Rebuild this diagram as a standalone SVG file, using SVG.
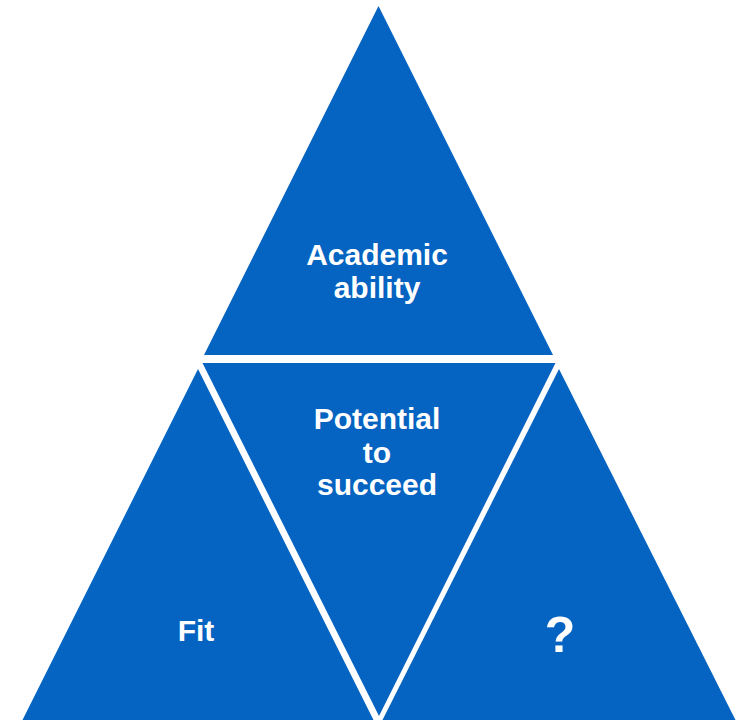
<svg xmlns="http://www.w3.org/2000/svg" width="740" height="720" viewBox="0 0 740 720">
<style>
.tri{fill:#0563C1;}
.lbl{fill:#fff;font-family:"Liberation Sans",Arial,sans-serif;font-weight:bold;font-size:30px;text-anchor:middle;}
</style>
<rect width="740" height="720" fill="#fff"/>
<g id="academic">
<polygon class="tri" points="378.5,6 553,355 204,355"/>
<text class="lbl" x="377" y="265">Academic</text>
<text class="lbl" x="377" y="298">ability</text>
</g>
<g id="potential">
<polygon class="tri" points="202.5,363 555.5,363 379,716"/>
<text class="lbl" x="377" y="429">Potential</text>
<text class="lbl" x="377" y="463">to</text>
<text class="lbl" x="377" y="495">succeed</text>
</g>
<g id="fit">
<polygon class="tri" points="198,369 373.5,720 22.5,720"/>
<text class="lbl" x="196" y="641">Fit</text>
</g>
<g id="unknown">
<polygon class="tri" points="559,369 735.5,720 382.5,720"/>
<text class="lbl" x="560" y="652" style="font-size:50px">?</text>
</g>
<g id="connectors"></g>
</svg>
